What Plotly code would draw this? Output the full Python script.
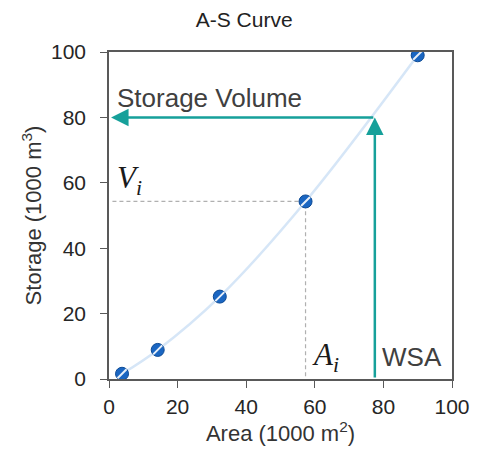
import plotly.graph_objects as go

# Data
area = [3.8, 14.2, 32.3, 57.3, 90.0]          # 1000 m2
storage = [1.6, 8.9, 25.2, 54.3, 99.0]        # 1000 m3
ai_idx = 3                                     # point used for A_i / V_i guide
wsa = 77.5                                     # WSA (1000 m2)
storage_volume = 80.0                          # resulting storage (1000 m3)
x_ticks = [0, 20, 40, 60, 80, 100]
y_ticks = [0, 20, 40, 60, 80, 100]

TEAL = "#16a09a"
BLUE = "#1a66c2"
FONT = "Liberation Sans"
SERIF = "Liberation Serif"

fig = go.Figure()

# fitted curve (smooth)
fig.add_trace(go.Scatter(x=area, y=storage, mode="lines",
                         line=dict(color="#d6e6f7", width=2.5, shape="spline", smoothing=1.0),
                         hoverinfo="skip", showlegend=False))

# dashed guides to A_i, V_i
Ai, Vi = area[ai_idx], storage[ai_idx]
fig.add_trace(go.Scatter(x=[1, Ai, Ai], y=[Vi, Vi, 0], mode="lines",
                         line=dict(color="#b0b0b0", width=1.2, dash="4px,3px"),
                         hoverinfo="skip", showlegend=False))

# markers
fig.add_trace(go.Scatter(x=area, y=storage, mode="markers",
                         marker=dict(symbol="circle", size=13, color=BLUE,
                                     line=dict(color="#0d4a94", width=1)),
                         showlegend=False))
fig.add_trace(go.Scatter(x=area, y=storage, mode="markers",
                         marker=dict(symbol="line-ne", size=9, color="white",
                                     line=dict(color="rgba(255,255,255,0.9)", width=2)),
                         hoverinfo="skip", showlegend=False))

# arrows
fig.add_annotation(x=wsa, y=storage_volume, ax=wsa, ay=0, xref="x", yref="y",
                   axref="x", ayref="y", text="", showarrow=True,
                   arrowhead=2, arrowsize=1.4, arrowwidth=2.5, arrowcolor=TEAL)
fig.add_annotation(x=0.6, y=storage_volume, ax=wsa, ay=storage_volume, xref="x", yref="y",
                   axref="x", ayref="y", text="", showarrow=True,
                   arrowhead=2, arrowsize=1.4, arrowwidth=2.5, arrowcolor=TEAL)

# labels
fig.add_annotation(x=1.8, y=85.8, xref="x", yref="y", text="Storage Volume",
                   showarrow=False, xanchor="left", yanchor="middle",
                   font=dict(family=FONT, size=26, color="#404040"))
fig.add_annotation(x=79.0, y=6.8, xref="x", yref="y", text="WSA",
                   showarrow=False, xanchor="left", yanchor="middle",
                   font=dict(family=FONT, size=26, color="#404040"))
fig.add_annotation(x=1.8, y=61.0, xref="x", yref="y", text="<i>V<sub>i</sub></i>",
                   showarrow=False, xanchor="left", yanchor="middle",
                   font=dict(family=SERIF, size=31, color="#1a1a1a"))
fig.add_annotation(x=58.6, y=6.8, xref="x", yref="y", text="<i>A<sub>i</sub></i>",
                   showarrow=False, xanchor="left", yanchor="middle",
                   font=dict(family=SERIF, size=31, color="#1a1a1a"))

axis_common = dict(showline=True, linecolor="#595959", linewidth=1.5, mirror=True,
                   ticks="outside", ticklen=7, tickcolor="#595959", tickwidth=1.2,
                   showgrid=False, zeroline=False,
                   tickfont=dict(family=FONT, size=21, color="#262626"))

fig.update_layout(
    width=489, height=452,
    margin=dict(l=101, r=45, t=44, b=81),
    paper_bgcolor="white", plot_bgcolor="white",
    title=dict(text="A-S Curve", x=0.483, xanchor="center", y=0.974, yanchor="middle",
               font=dict(family=FONT, size=21, color="#222222")),
    xaxis=dict(range=[0, 100], tickvals=x_ticks, ticklabelstandoff=1,
               title=dict(text="Area (1000 m<sup>2</sup>)", standoff=6,
                          font=dict(family=FONT, size=22, color="#333333")),
               **axis_common),
    yaxis=dict(range=[0, 100], tickvals=y_ticks, ticklabelstandoff=10,
               title=dict(text="Storage (1000 m<sup>3</sup>)", standoff=3,
                          font=dict(family=FONT, size=22, color="#333333")),
               **axis_common),
)

fig.write_html("out.html")
